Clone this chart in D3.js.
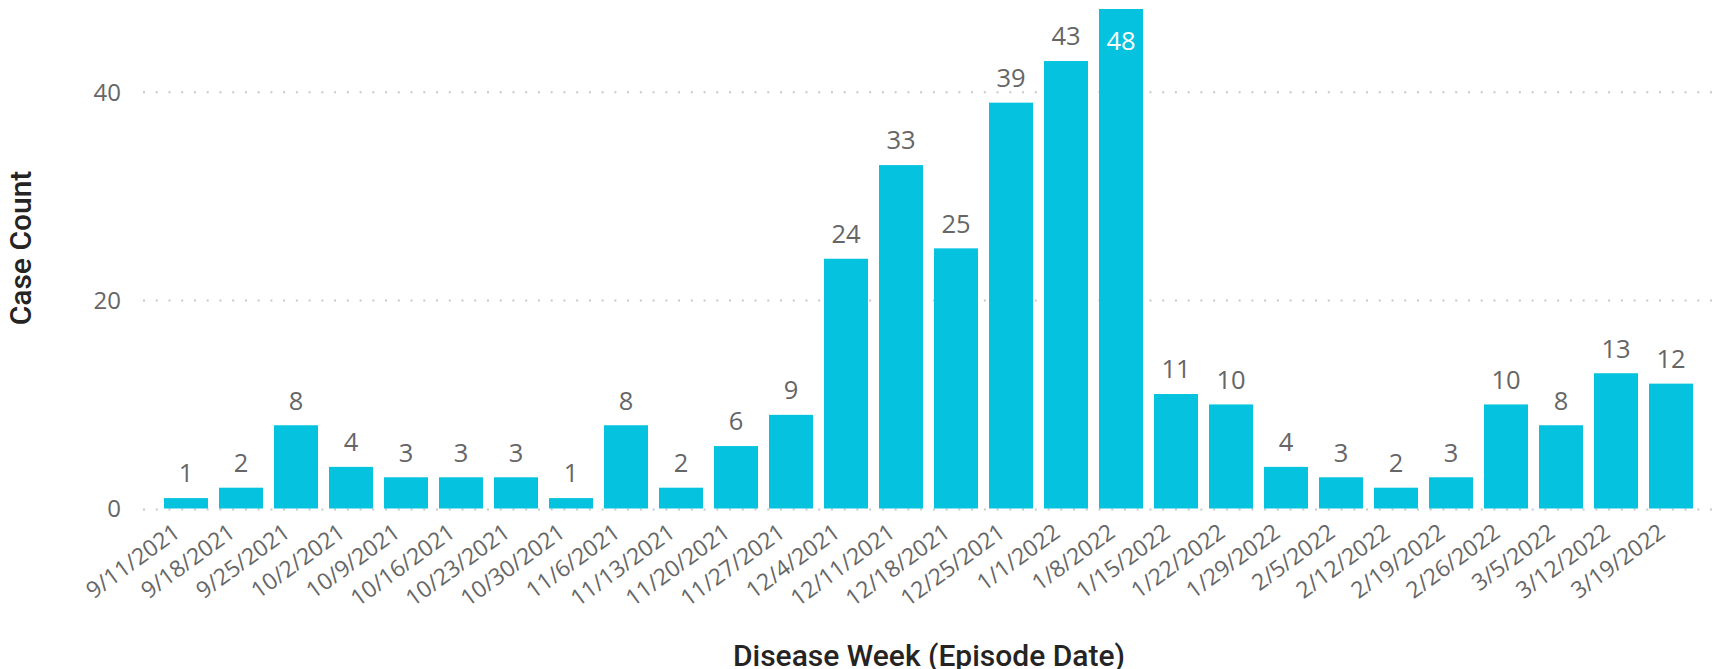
<!DOCTYPE html>
<html><head><meta charset="utf-8">
<script src="https://cdn.jsdelivr.net/npm/d3@7"></script>
<style>
html,body{margin:0;padding:0;background:#fff;}
svg{display:block;}
</style>
</head><body>
<svg id="chart" width="1724" height="669"></svg>
<script>
const categories = ["9/11/2021","9/18/2021","9/25/2021","10/2/2021","10/9/2021","10/16/2021","10/23/2021","10/30/2021","11/6/2021","11/13/2021","11/20/2021","11/27/2021","12/4/2021","12/11/2021","12/18/2021","12/25/2021","1/1/2022","1/8/2022","1/15/2022","1/22/2022","1/29/2022","2/5/2022","2/12/2022","2/19/2022","2/26/2022","3/5/2022","3/12/2022","3/19/2022"];
const caseCount = [1,2,8,4,3,3,3,1,8,2,6,9,24,33,25,39,43,48,11,10,4,3,2,3,10,8,13,12];
const yTicks = [0,20,40];
const xTitle = "Disease Week (Episode Date)";
const yTitle = "Case Count";

const svg = d3.select("#chart");
const barColor = "#05C3DE";
const labelColor = "#666666";
const titleColor = "#252423";

const x = d3.scaleBand().domain(categories).range([158.5, 1698.5]).paddingInner(0.2).paddingOuter(0.1);
const y = d3.scaleLinear().domain([0, 48]).range([508.5, 9]);

// gridlines
const grid = svg.append("g");
grid.selectAll("line").data(yTicks).join("line")
  .attr("x1", 143).attr("x2", 1712)
  .attr("y1", d => y(d) + (d === 0 ? 1 : 0)).attr("y2", d => y(d) + (d === 0 ? 1 : 0))
  .attr("stroke", "#c8c8c8").attr("stroke-width", 2)
  .attr("stroke-dasharray", "2 10.74");

// y axis
const yAxis = d3.axisLeft(y).tickValues(yTicks).tickSize(0).tickPadding(0);
const gy = svg.append("g").attr("transform", "translate(121,0)").call(yAxis);
gy.select(".domain").remove();
gy.selectAll("text").attr("fill", labelColor).style("font-family", "'Open Sans', sans-serif")
  .style("font-size", "24px").attr("dy", "0.34em");

// bars
svg.append("g").selectAll("rect").data(caseCount).join("rect")
  .attr("x", (d,i) => x(categories[i]))
  .attr("width", x.bandwidth())
  .attr("y", d => y(d))
  .attr("height", d => y(0) - y(d))
  .attr("fill", barColor);

// data labels
const inside = d => (y(d) - 15.7 - 19 < 0);
svg.append("g").selectAll("text").data(caseCount).join("text")
  .attr("x", (d,i) => x(categories[i]) + x.bandwidth()/2)
  .attr("y", d => inside(d) ? y(d) + 41.3 : y(d) - 15.7)
  .attr("text-anchor", "middle")
  .attr("fill", d => inside(d) ? "#ffffff" : labelColor)
  .style("font-family", "'Open Sans', sans-serif").style("font-size", "25.5px")
  .text(d => d);

// x axis
const xAxis = d3.axisBottom(x).tickSize(0).tickPadding(0);
const gx = svg.append("g").call(xAxis);
gx.select(".domain").remove();
gx.selectAll(".tick").attr("transform", d => `translate(${x(d) + x.bandwidth()/2 - 14},522)`);
gx.selectAll("text")
  .attr("y", 0).attr("x", 0).attr("dy", "0.72em")
  .attr("text-anchor", "end")
  .attr("transform", "rotate(-36)")
  .attr("fill", labelColor)
  .style("font-family", "'Open Sans', sans-serif").style("font-size", "23px");

// titles
svg.append("text").attr("x", 929).attr("y", 666).attr("text-anchor", "middle")
  .attr("fill", titleColor).style("font-family", "Roboto, sans-serif").style("font-weight", 500)
  .style("font-size", "30px").text(xTitle);
svg.append("text").attr("transform", "translate(31,248) rotate(-90)").attr("text-anchor", "middle")
  .attr("fill", titleColor).style("font-family", "Roboto, sans-serif").style("font-weight", 500)
  .style("font-size", "30px").text(yTitle);
</script>
</body></html>
